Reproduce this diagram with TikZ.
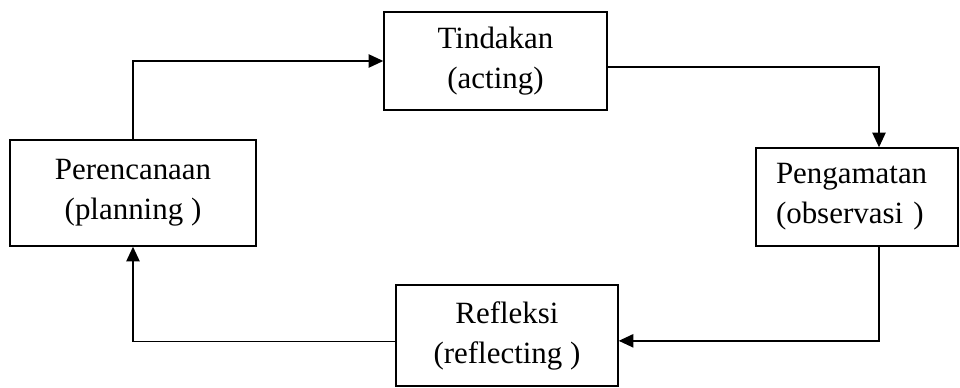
\documentclass[tikz,border=0pt]{standalone}
\usepackage{fontspec}
\setmainfont{Liberation Serif}
\usepackage{tikz}
\usetikzlibrary{arrows.meta}

\begin{document}
\begin{tikzpicture}[x=0.75pt,y=0.75pt,yscale=-1,xscale=1,
  stagebox/.style={draw, line width=1.1pt, inner sep=0pt, align=center,
    font=\fontsize{23.2}{30}\selectfont},
  cyclelink/.style={line width=1.1pt, -{Triangle[length=11pt,width=10pt]}}]
\useasboundingbox (0,0) rectangle (960,388);

%Shape: Rectangle [Tindakan]
\node [stagebox, minimum width=167.25pt, minimum height=73.5pt] (tindakan) at (495.5,61) {Tindakan\\(acting)};
%Shape: Rectangle [Perencanaan]
\node [stagebox, minimum width=184.5pt, minimum height=79.5pt] (perencanaan) at (133,193) {Perencanaan\\(planning )};
%Shape: Rectangle [Pengamatan]
\node [stagebox, align=left, inner xsep=15pt, text width=121.5pt, minimum height=73.5pt] (pengamatan) at (857,197) {Pengamatan\\(observasi )};
%Shape: Rectangle [Refleksi]
\node [stagebox, minimum width=166.5pt, minimum height=75.75pt] (refleksi) at (507,335.5) {Refleksi\\(reflecting )};

%Straight Lines
\draw [cyclelink] (perencanaan.north) |- (tindakan.west);
%Straight Lines
\draw [cyclelink] ([yshift=4.5pt]tindakan.east) -| ([xshift=16.5pt]pengamatan.north);
%Straight Lines
\draw [cyclelink] ([xshift=16.5pt]pengamatan.south) |- ([yshift=4pt]refleksi.east);
%Straight Lines
\draw [cyclelink] ([yshift=4.5pt]refleksi.west) -| (perencanaan.south);

\end{tikzpicture}
\end{document}
